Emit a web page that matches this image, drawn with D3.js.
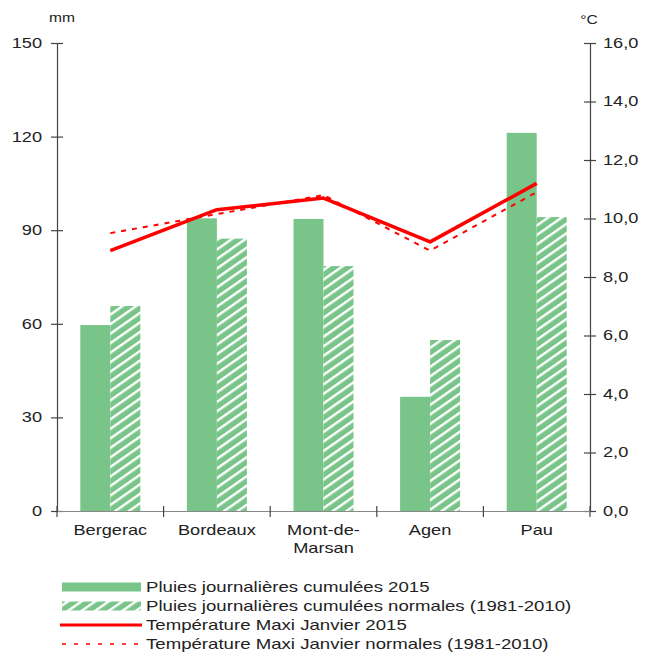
<!DOCTYPE html>
<html>
<head>
<meta charset="utf-8">
<script src="https://cdn.jsdelivr.net/npm/d3@7"></script>
<style>
  body { margin: 0; background: #fff; }
  text { font-family: "Liberation Sans", Arial, sans-serif; fill: #222; }
</style>
</head>
<body>
<div id="chart"></div>
<script>
const villes = ["Bergerac", "Bordeaux", "Mont-de-Marsan", "Agen", "Pau"];
const pluie2015 = [59.6, 93.8, 93.6, 36.6, 121.2];
const pluieNormales = [65.7, 87.3, 78.5, 54.8, 94.2];
const tmax2015 = [8.9, 10.3, 10.7, 9.2, 11.2];
const tmaxNormales = [9.5, 10.15, 10.8, 8.9, 10.9];
const ticksPluie = [0, 30, 60, 90, 120, 150];
const ticksTemp = [0, 2, 4, 6, 8, 10, 12, 14, 16];
const legendeTextes = [
  "Pluies journalières cumulées 2015",
  "Pluies journalières cumulées normales (1981-2010)",
  "Température Maxi Janvier 2015",
  "Température Maxi Janvier normales (1981-2010)"
];

const W = 654, H = 653;
const mLeft = 57, mRight = 590, mTop = 43, mBottom = 511;
const vert = "#79c589", rouge = "#ff0000";
const sx = 1.3; // texte étiré horizontalement comme sur l'original

const svg = d3.select("#chart").append("svg")
  .attr("width", W)
  .attr("height", H);

// hachures blanches
const pat = svg.append("defs").append("pattern")
  .attr("id", "hach")
  .attr("patternUnits", "userSpaceOnUse")
  .attr("width", 10).attr("height", 7.8)
  .attr("patternTransform", "rotate(-35)");
pat.append("rect").attr("width", 10).attr("height", 7.8).attr("fill", vert);
pat.append("rect").attr("y", 0).attr("width", 10).attr("height", 2.4).attr("fill", "#fff");

const x = d3.scaleBand().domain(villes).range([mLeft, mRight]);
const yP = d3.scaleLinear().domain([0, 150]).range([mBottom, mTop]);
const yT = d3.scaleLinear().domain([0, 16]).range([mBottom, mTop]);
const barW = 30;

// barres
svg.append("g").selectAll("rect")
  .data(villes)
  .join("rect")
  .attr("x", d => x(d) + x.bandwidth() / 2 - barW)
  .attr("y", (d, i) => yP(pluie2015[i]))
  .attr("width", barW)
  .attr("height", (d, i) => mBottom - yP(pluie2015[i]))
  .attr("fill", vert);

svg.append("g").selectAll("rect")
  .data(villes)
  .join("rect")
  .attr("x", d => x(d) + x.bandwidth() / 2)
  .attr("y", (d, i) => yP(pluieNormales[i]))
  .attr("width", barW)
  .attr("height", (d, i) => mBottom - yP(pluieNormales[i]))
  .attr("fill", "url(#hach)");

// axes
const axisColor = "#444";
const gL = svg.append("g").attr("transform", `translate(${mLeft},0)`)
  .call(d3.axisLeft(yP).tickValues(ticksPluie).tickSize(6).tickPadding(5.5));
const gR = svg.append("g").attr("transform", `translate(${mRight},0)`)
  .call(d3.axisRight(yT).tickValues(ticksTemp).tickSize(6).tickPadding(4)
    .tickFormat(d => d3.format(".1f")(d).replace(".", ",")));
const gB = svg.append("g").attr("transform", `translate(0,${mBottom})`)
  .call(d3.axisBottom(x).tickSize(0).tickPadding(14));

[gL, gR, gB].forEach(g => {
  g.select(".domain").attr("stroke", axisColor).attr("stroke-width", 1.2);
  g.selectAll(".tick line").attr("stroke", axisColor).attr("stroke-width", 1.2);
  g.selectAll("text").attr("font-size", 14).attr("fill", "#222")
    .attr("transform", `scale(${sx},1)`)
    .style("font-family", '"Liberation Sans", Arial, sans-serif');
});
gB.select(".domain").attr("stroke", "#888");
// ticks croisant l'axe
gL.selectAll(".tick line").attr("x1", 6);
gR.selectAll(".tick line").attr("x1", -6);

// séparateurs de catégories
gB.selectAll(".sep")
  .data(villes.concat(["_end"]))
  .join("line")
  .attr("class", "sep")
  .attr("x1", (d, i) => mLeft + i * x.bandwidth())
  .attr("x2", (d, i) => mLeft + i * x.bandwidth())
  .attr("y1", -5).attr("y2", 6)
  .attr("stroke", axisColor).attr("stroke-width", 1.2);

// libellés sur deux lignes
gB.selectAll(".tick text").each(function(d) {
  const t = d3.select(this);
  if (d === "Mont-de-Marsan") {
    t.text(null);
    t.append("tspan").attr("x", 0).attr("dy", "0.71em").text("Mont-de-");
    t.append("tspan").attr("x", 0).attr("dy", "1.3em").text("Marsan");
    t.attr("dy", null);
  }
});

// unités
svg.append("text").attr("transform", `translate(62,22) scale(${sx},1)`)
  .attr("font-size", 12).attr("text-anchor", "middle").text("mm");
svg.append("text").attr("transform", `translate(589,24) scale(${sx},1)`)
  .attr("font-size", 12).attr("text-anchor", "middle").text("°C");

// courbes
const line = d3.line()
  .x((d, i) => x(villes[i]) + x.bandwidth() / 2)
  .y(d => yT(d));

svg.append("path").datum(tmaxNormales)
  .attr("d", line)
  .attr("fill", "none").attr("stroke", rouge)
  .attr("stroke-width", 2).attr("stroke-dasharray", "5,6");

svg.append("path").datum(tmax2015)
  .attr("d", line)
  .attr("fill", "none").attr("stroke", rouge)
  .attr("stroke-width", 3.5).attr("stroke-linejoin", "round");

// légende
const leg = svg.append("g");
const ly = [587, 606, 625, 644];
leg.append("rect").attr("x", 62).attr("y", ly[0] - 4.5).attr("width", 79).attr("height", 9).attr("fill", vert);
leg.append("rect").attr("x", 62).attr("y", ly[1] - 4.5).attr("width", 79).attr("height", 9).attr("fill", "url(#hach)");
leg.append("line").attr("x1", 60).attr("x2", 142).attr("y1", ly[2]).attr("y2", ly[2])
  .attr("stroke", rouge).attr("stroke-width", 3);
leg.append("line").attr("x1", 62).attr("x2", 142).attr("y1", ly[3]).attr("y2", ly[3])
  .attr("stroke", rouge).attr("stroke-width", 1.5).attr("stroke-dasharray", "4,8");
leg.selectAll("text.l")
  .data(legendeTextes)
  .join("text")
  .attr("class", "l")
  .attr("transform", (d, i) => `translate(146,${ly[i]}) scale(1.33,1)`)
  .attr("dy", "0.35em")
  .attr("font-size", 14)
  .text(d => d);
</script>
</body>
</html>
